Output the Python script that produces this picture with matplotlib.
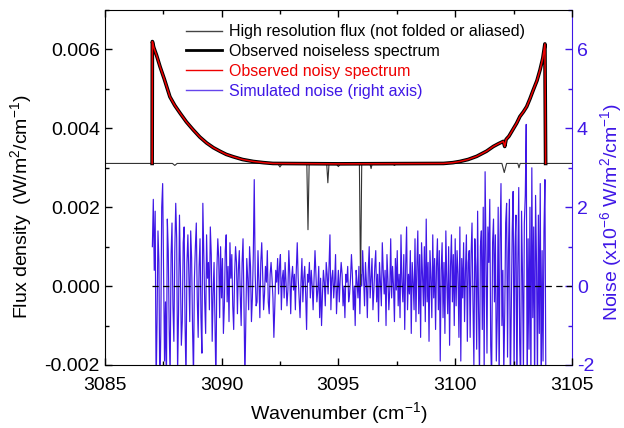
import numpy as np
import matplotlib
matplotlib.use("Agg")
import matplotlib.pyplot as plt
from matplotlib.lines import Line2D
from matplotlib.ticker import MultipleLocator, FormatStrFormatter

plt.rcParams['font.family'] = ['Liberation Sans', 'DejaVu Sans']
plt.rcParams['mathtext.fontset'] = 'custom'
plt.rcParams['mathtext.rm'] = 'Liberation Sans'
plt.rcParams['mathtext.it'] = 'Liberation Sans:italic'
plt.rcParams['axes.unicode_minus'] = False

# ── data ─────────────────────────────────────────────────────────────────────
# high resolution flux: flat continuum with absorption lines
hires_wn = [3085.0, 3087.9, 3088.0, 3088.1, 3092.4, 3092.5, 3092.6,
            3093.65, 3093.70, 3093.75, 3094.50, 3094.55, 3094.60,
            3094.9, 3095.0, 3095.1, 3095.90, 3095.95, 3096.00,
            3096.35, 3096.40, 3096.45, 3097.3, 3097.4, 3097.5,
            3102.0, 3102.1, 3102.2, 3102.68, 3102.73, 3102.78, 3105.0]
hires_flux = [0.00311, 0.00311, 0.00306, 0.00311, 0.00311, 0.00302, 0.00311,
              0.00311, 0.00143, 0.00311, 0.00311, 0.00262, 0.00311,
              0.00311, 0.00303, 0.00311, 0.00311, 0.00003, 0.00311,
              0.00311, 0.00298, 0.00311, 0.00311, 0.00306, 0.00311,
              0.00311, 0.00288, 0.00311, 0.00311, 0.00300, 0.00311, 0.00311]

# observed (folded / aliased) spectrum
obs_wn = [3087.03, 3087.04, 3087.10, 3087.22, 3087.37, 3087.55, 3087.79,
          3088.00, 3088.22, 3088.50, 3088.79, 3089.07, 3089.36, 3089.65,
          3089.93, 3090.20, 3090.50, 3090.90, 3091.36, 3091.80, 3092.20,
          3095.00, 3099.50, 3099.90, 3100.20, 3100.55, 3100.92, 3101.34,
          3101.63, 3101.85, 3102.06, 3102.12, 3102.18, 3102.30, 3102.45,
          3102.63, 3102.77, 3102.92, 3103.06, 3103.20, 3103.34, 3103.50,
          3103.63, 3103.75, 3103.84, 3103.87]
obs_flux = [0.00311, 0.00620, 0.00605, 0.00585, 0.00556, 0.00525, 0.00480,
            0.00458, 0.00439, 0.00416, 0.00396, 0.00378, 0.00363, 0.00351,
            0.00342, 0.00334, 0.00328, 0.00321, 0.00316, 0.00313, 0.00311,
            0.00310, 0.00311, 0.00313, 0.00316, 0.00321, 0.00329, 0.00342,
            0.00354, 0.00361, 0.00367, 0.00354, 0.00372, 0.00380, 0.00395,
            0.00413, 0.00430, 0.00442, 0.00455, 0.00475, 0.00497, 0.00521,
            0.00548, 0.00578, 0.00614, 0.00311]

# simulated noise (x1e-6, right axis), sampled every 0.04 cm-1 from 3087.04
noise_start, noise_step = 3087.04, 0.04
noise = [
    1.0, 2.2, 0.4, 1.9, -2.6, -0.9, 1.4, 0.6, -2.8, -1.2, 2.0, 2.6, 0.3, -1.9, -0.4, -2.7, 1.7, 0.9, -1.1, -2.3,
    0.8, 1.6, -0.5, -1.4, 0.9, 2.1, 1.2, -2.2, -0.7, 1.8, 0.4, -1.5, -0.9, 1.1, 1.5, -1.0, -2.4, 0.6, 1.3, 0.3,
    -0.9, 1.4, 0.7, -1.1, -2.3, 0.2, 1.0, 1.6, -0.3, -1.3, 0.5, 1.2, -0.8, -1.7, 2.1, 0.9, -0.4, -1.2, 1.3, 0.2,
    0.6, -0.6, 1.5, 0.8, -1.4, -0.2, 0.6, -1.0, -2.5, 0.4, 1.2, 0.7, -0.8, 1.0, -0.3, 0.7, -1.2, -0.5, 0.9, 1.3,
    -0.4, 0.5, -0.9, 1.1, 0.2, 0.8, -0.5, -1.1, 0.3, 1.0, 0.6, -0.7, 0.4, 0.9, -0.2, -1.0, 0.6, 1.2, -0.4, -2.4,
    -0.8, 0.7, 0.2, -0.6, 1.0, 0.5, -0.9, -0.3, 0.8, 2.7, 0.3, -0.5, -0.4, 0.9, 0.1, -0.8, 0.6, 1.1, 0.3, -0.6,
    -0.2, 0.5, 0.1, 0.9, -0.4, -0.7, 0.3, 0.6, 0.2, -0.3, -1.3, -0.5, 0.4, 0.1, 0.7, -0.2, 0.5, 0.8, -0.6, 0.2,
    0.4, -0.3, 0.6, 0.1, -0.5, -0.1, 0.9, 0.3, -0.7, 0.2, 0.5, -0.1, 0.3, -0.6, 0.4, 1.1, 0.2, -0.3, -0.8, 0.1,
    0.7, -0.4, 0.2, 0.5, -0.2, -1.1, 0.3, 0.1, 0.6, -0.3, 0.4, 0.0, -0.6, 0.2, 0.9, 0.3, -0.4, -0.1, 0.5, -0.8,
    0.2, -1.0, -0.2, 0.4, 0.1, -0.5, 0.6, 0.3, -0.2, 0.5, 1.3, -0.6, 0.2, 0.4, -0.3, 0.1, 0.8, -0.7, -0.1, 0.4,
    -0.4, 0.2, 0.6, 0.3, -0.5, 0.0, -0.8, 0.3, 0.1, 0.5, -0.4, -0.2, 0.2, 0.8, 0.3, -0.6, 0.0, -1.0, 0.4, 0.1,
    -0.3, 0.5, -0.7, 0.3, 0.0, 0.9, 0.2, -0.5, 0.6, 0.1, -0.8, 0.4, 1.0, -0.3, 0.2, 0.7, -0.6, -0.1, 0.5, 0.9,
    -0.4, 0.3, -0.9, 0.6, 0.1, -0.5, 1.1, 0.4, -0.2, 0.4, -1.0, 0.8, 0.2, -0.6, -0.1, 1.2, -0.3, 0.5, 0.0, -0.9,
    0.7, -0.1, 0.9, -0.5, 0.3, -0.8, 1.3, 0.1, -0.4, 0.8, -1.1, 0.5, 1.5, -0.6, 0.3, -0.2, 0.9, -1.2, 0.6, 0.1,
    -0.6, 1.2, -0.9, 0.5, 1.4, -0.7, 0.8, -1.3, 1.1, 0.3, -0.5, 1.0, -0.9, 1.7, -0.4, 0.6, -1.4, 0.9, 0.2, -0.8,
    1.3, -0.3, 0.7, -1.1, 0.5, 1.2, -0.6, 0.9, -1.9, 0.4, 1.1, -0.8, 0.6, -1.2, 1.4, 0.1, -0.7, 1.0, -1.5, 0.5,
    1.3, -0.4, 0.8, -1.0, 1.2, -0.5, 0.9, 0.3, -1.3, 1.5, -1.9, 0.7, -0.3, 1.1, -0.9, 0.4, 1.3, -1.4, 0.6, 0.9,
    -1.3, 0.8, 1.6, -0.4, -2.0, 1.2, 0.5, -1.6, 1.9, -0.6, -2.3, 1.0, 1.4, -1.1, 2.0, -2.2, 2.9, 0.8, -1.7, 1.5,
    0.6, 2.2, -1.5, -2.4, 1.1, 1.7, -0.4, 1.3, -1.9, -0.8, 2.0, -2.6, 1.2, 2.6, -1.0, 0.4, -2.2, -0.7, 1.6, 2.1,
    -1.8, 0.9, 2.2, -2.7, -0.6, 1.4, 2.4, -2.3, 1.0, 1.8, -2.8, 0.5, 2.5, -1.4, -2.6, 1.9, 0.3, -2.2, 1.6, 2.3,
    4.1, -2.9, 1.2, -1.6, 2.0, -2.5, 3.0, -0.8, 1.5, -2.7, 2.3, 0.6, -2.4, 1.8, -1.2, 2.6, -2.8, 0.9, -1.9, 1.4,
    2.7, -2.5,
]
noise_wn = noise_start + noise_step * np.arange(len(noise))

BLUE = "#3f17e6"
RED = "#ee0000"

# ── figure ───────────────────────────────────────────────────────────────────
fig = plt.figure(figsize=(6.24, 4.28), dpi=100)
ax = fig.add_axes([0.1678, 0.1472, 0.7489, 0.8294])
ax2 = ax.twinx()

ax2.plot(noise_wn, noise, color=BLUE, lw=0.85)
ax2.set_ylim(-2, 7)

ax.set_zorder(ax2.get_zorder() + 1)
ax.patch.set_visible(False)

ax.plot([3087.03, 3105], [0, 0], color="k", lw=0.9, dashes=(5, 3.5))
ax.plot(hires_wn, hires_flux, color="#333333", lw=0.8)
ax.plot(obs_wn, obs_flux, color="k", lw=2.6)
ax.plot(obs_wn, obs_flux, color=RED, lw=1.1)

ax.set_xlim(3085, 3105)
ax.set_ylim(-0.002, 0.007)
ax.xaxis.set_major_locator(MultipleLocator(5))
ax.xaxis.set_minor_locator(MultipleLocator(2.5))
ax.yaxis.set_major_locator(MultipleLocator(0.002))
ax.yaxis.set_minor_locator(MultipleLocator(0.001))
ax.yaxis.set_major_formatter(FormatStrFormatter('%.3f'))
ax.tick_params(which="both", direction="in", top=True, right=False,
               labelsize=14, width=1)
ax.tick_params(axis="x", pad=9)
ax.tick_params(which="major", length=5)
ax.tick_params(which="minor", length=3)
ax.spines["right"].set_visible(False)

ax2.yaxis.set_major_locator(MultipleLocator(2))
ax2.yaxis.set_minor_locator(MultipleLocator(1))
ax2.tick_params(which="both", direction="in", colors=BLUE, labelsize=14, width=1)
ax2.tick_params(which="major", length=5)
ax2.tick_params(which="minor", length=3)
ax2.spines["right"].set_color(BLUE)
for s in ("top", "left", "bottom"):
    ax2.spines[s].set_visible(False)

ax.set_xlabel("Wavenumber (cm$^{-1}$)", fontsize=14)
ax.set_ylabel("Flux density  (W/m$^{2}$/cm$^{-1}$)", fontsize=14)
ax2.set_ylabel("Noise (x10$^{-6}$ W/m$^{2}$/cm$^{-1}$)", fontsize=14, color=BLUE)
ax.yaxis.set_label_coords(-0.151, 0.445)
ax2.yaxis.set_label_coords(1.056, 0.43)

handles = [Line2D([], [], color="#444444", lw=1),
           Line2D([], [], color="k", lw=2),
           Line2D([], [], color=RED, lw=1),
           Line2D([], [], color=BLUE, lw=1, alpha=0.8)]
labels = ["High resolution flux (not folded or aliased)",
          "Observed noiseless spectrum",
          "Observed noisy spectrum",
          "Simulated noise (right axis)"]
leg = ax.legend(handles, labels, loc="upper left", bbox_to_anchor=(0.175, 0.96),
                frameon=False, fontsize=11.5, handlelength=2.2, handletextpad=0.45,
                labelspacing=0.3, borderpad=0, borderaxespad=0)
for t, c in zip(leg.get_texts(), ["k", "k", RED, BLUE]):
    t.set_color(c)

fig.savefig("out.png", dpi=100)
